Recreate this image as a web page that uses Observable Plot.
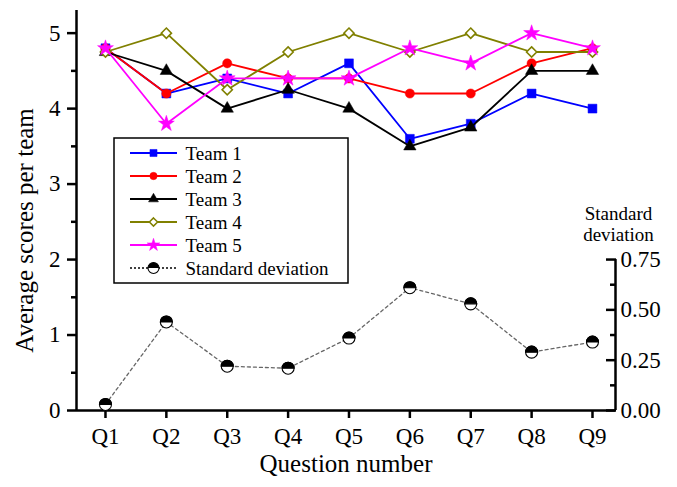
<!DOCTYPE html>
<html>
<head>
<meta charset="utf-8">
<script src="https://cdn.jsdelivr.net/npm/d3@7"></script>
<script src="https://cdn.jsdelivr.net/npm/@observablehq/plot@0.6"></script>
<style>
  html, body { margin: 0; padding: 0; background: #fff; }
</style>
</head>
<body>
<div id="chart"></div>
<script>
const questions = ["Q1", "Q2", "Q3", "Q4", "Q5", "Q6", "Q7", "Q8", "Q9"];
const team1 = [4.8, 4.2, 4.4, 4.2, 4.6, 3.6, 3.8, 4.2, 4.0];
const team2 = [4.8, 4.2, 4.6, 4.4, 4.4, 4.2, 4.2, 4.6, 4.8];
const team3 = [4.75, 4.5, 4.0, 4.25, 4.0, 3.5, 3.75, 4.5, 4.5];
const team4 = [4.75, 5.0, 4.25, 4.75, 5.0, 4.75, 5.0, 4.75, 4.75];
const team5 = [4.8, 3.8, 4.4, 4.4, 4.4, 4.8, 4.6, 5.0, 4.8];
const stdDev = [0.03, 0.44, 0.22, 0.21, 0.36, 0.61, 0.53, 0.29, 0.34];
const teamNames = ["Team 1", "Team 2", "Team 3", "Team 4", "Team 5"];
const stdName = "Standard deviation";
const leftTicks = [0, 1, 2, 3, 4, 5];
const leftMinor = [0.5, 1.5, 2.5, 3.5, 4.5];
const rightTicks = [0, 0.25, 0.5, 0.75];
const rightMinor = [0.125, 0.375, 0.625];

// right axis: 0.75 on the SD axis sits at 2 on the score axis
const F = 0.375;
const X0 = 0.524, X1 = 9.378, YMAX = 5.3;
const ML = 76, MT = 10;

const serif = "'Liberation Serif', 'Times New Roman', 'DejaVu Serif', serif";

const styles = [
  {color: "#0000ff", symbol: "square", r: 5, fill: "#0000ff"},
  {color: "#ff0000", symbol: "circle", r: 4.6, fill: "#ff0000"},
  {color: "#000000", symbol: "triangle", r: 4.6, fill: "#000000"},
  {color: "#808000", symbol: "diamond2", r: 4.6, fill: "#ffffff"},
  {color: "#ff00ff", symbol: "star", r: 5, fill: "#ff00ff"}
];
const teams = [team1, team2, team3, team4, team5];

const halfTop = {
  draw(context, size) {
    const r = Math.sqrt(size / Math.PI);
    context.moveTo(r, 0);
    context.arc(0, 0, r, 0, Math.PI, true);
    context.closePath();
  }
};

const sdRows = stdDev.map((v, i) => ({q: i + 1, y: v / F}));

const teamMarks = teams.flatMap((vals, t) => {
  const rows = vals.map((v, i) => ({q: i + 1, v}));
  const s = styles[t];
  return [
    Plot.line(rows, {x: "q", y: "v", stroke: s.color, strokeWidth: 1.8}),
    Plot.dot(rows, {x: "q", y: "v", symbol: s.symbol, r: s.r, fill: s.fill,
      stroke: s.color, strokeWidth: s.fill === "#ffffff" ? 1.6 : 0.5})
  ];
});

// legend geometry (pixels)
const bx = 114, by = 138, bw = 234, bh = 145, rowH = 23;
const legendLabels = [...teamNames, stdName];
const legendTextMarks = legendLabels.map((label, i) =>
  Plot.text([label], {frameAnchor: "top-left", dx: 185 - ML, dy: by + 15 + i * rowH - MT,
    textAnchor: "start", lineAnchor: "middle", fontSize: 19, fill: "#000", ariaLabel: () => "legend label"}));

const svg = Plot.plot({
  width: 677,
  height: 487,
  marginLeft: ML,
  marginRight: 62,
  marginTop: MT,
  marginBottom: 77,
  x: {type: "linear", domain: [X0, X1]},
  y: {domain: [0, YMAX]},
  style: {fontFamily: serif, background: "#fff", color: "#000"},
  marks: [
    // axes
    Plot.axisX({ticks: d3.range(1, 10), tickFormat: i => questions[i - 1], tickSize: 8,
      tickPadding: 9, fontSize: 23, strokeWidth: 2.5, label: null}),
    Plot.axisY({ticks: leftTicks, tickSize: 9, tickPadding: 7, fontSize: 23,
      tickFormat: d => String(d), strokeWidth: 2.5, label: null}),
    Plot.axisY({ticks: leftMinor, tickSize: 5, tickFormat: () => "", strokeWidth: 2.5, label: null}),
    Plot.axisY({anchor: "right", ticks: rightTicks.map(v => v / F), tickSize: 0, tickPadding: 5,
      tickFormat: v => (v * F).toFixed(2), fontSize: 23, label: null}),
    Plot.axisY({anchor: "right", ticks: rightTicks.map(v => v / F), tickSize: 10, dx: -10,
      tickFormat: () => "", strokeWidth: 2.5, label: null}),
    Plot.axisY({anchor: "right", ticks: rightMinor.map(v => v / F), tickSize: 6, dx: -6,
      tickFormat: () => "", strokeWidth: 2.5, label: null}),
    Plot.ruleX([X0], {y1: 0, y2: YMAX, strokeWidth: 2.5}),
    Plot.ruleX([X1], {y1: 0, y2: rightTicks[rightTicks.length - 1] / F, strokeWidth: 2.5}),
    Plot.ruleY([0], {x1: X0, x2: X1, strokeWidth: 2.5}),
    // titles
    Plot.text(["Question number"], {frameAnchor: "bottom", dy: 61, fontSize: 25, textAnchor: "middle"}),
    Plot.text(["Average scores per team"], {frameAnchor: "left", dx: -52, dy: 20, rotate: -90,
      fontSize: 25, textAnchor: "middle"}),
    Plot.text(["Standard\ndeviation"], {frameAnchor: "top-right", dx: 3, dy: 213, fontSize: 19,
      lineAnchor: "middle", lineHeight: 1.12, textAnchor: "middle"}),
    // series
    ...teamMarks,
    Plot.line(sdRows, {x: "q", y: "y", stroke: "#666", strokeWidth: 1.3, strokeDasharray: "3,3"}),
    Plot.dot(sdRows, {x: "q", y: "y", r: 6, fill: "#fff", stroke: "#000", strokeWidth: 1.1}),
    Plot.dot(sdRows, {x: "q", y: "y", r: 6, symbol: halfTop, fill: "#000", stroke: "#000", strokeWidth: 1.1}),
    // legend labels
    ...legendTextMarks
  ]
});

// legend box and keys, placed beneath the legend labels
const gNode = document.createElementNS("http://www.w3.org/2000/svg", "g");
let anchor = svg.querySelector('[aria-label="legend label"]');
while (anchor && anchor.parentNode !== svg) anchor = anchor.parentNode;
svg.insertBefore(gNode, anchor || null);
const g = d3.select(gNode);
g.append("rect").attr("x", bx).attr("y", by).attr("width", bw).attr("height", bh)
  .attr("fill", "#fff").attr("stroke", "#000").attr("stroke-width", 1.5);
const symMap = {square: d3.symbolSquare, circle: d3.symbolCircle, triangle: d3.symbolTriangle,
  diamond2: d3.symbolDiamond2, star: d3.symbolStar};
teamNames.forEach((name, i) => {
  const s = styles[i];
  const y = by + 15 + i * rowH;
  g.append("line").attr("x1", 130).attr("x2", 177).attr("y1", y).attr("y2", y)
    .attr("stroke", s.color).attr("stroke-width", 1.8);
  g.append("path").attr("transform", `translate(153.5,${y})`)
    .attr("d", d3.symbol(symMap[s.symbol], Math.PI * (s.r * 0.8) ** 2)())
    .attr("fill", s.fill).attr("stroke", s.color)
    .attr("stroke-width", s.fill === "#ffffff" ? 1.5 : 0.5);
});
{
  const y = by + 15 + 5 * rowH;
  g.append("line").attr("x1", 130).attr("x2", 177).attr("y1", y).attr("y2", y)
    .attr("stroke", "#000").attr("stroke-width", 1.3).attr("stroke-dasharray", "2,2");
  g.append("circle").attr("cx", 153.5).attr("cy", y).attr("r", 5.5).attr("fill", "#fff")
    .attr("stroke", "#000").attr("stroke-width", 1.1);
  g.append("path").attr("transform", `translate(153.5,${y})`)
    .attr("d", d3.symbol(halfTop, Math.PI * 5.5 * 5.5)()).attr("fill", "#000");
}

document.getElementById("chart").appendChild(svg);
</script>
</body>
</html>
